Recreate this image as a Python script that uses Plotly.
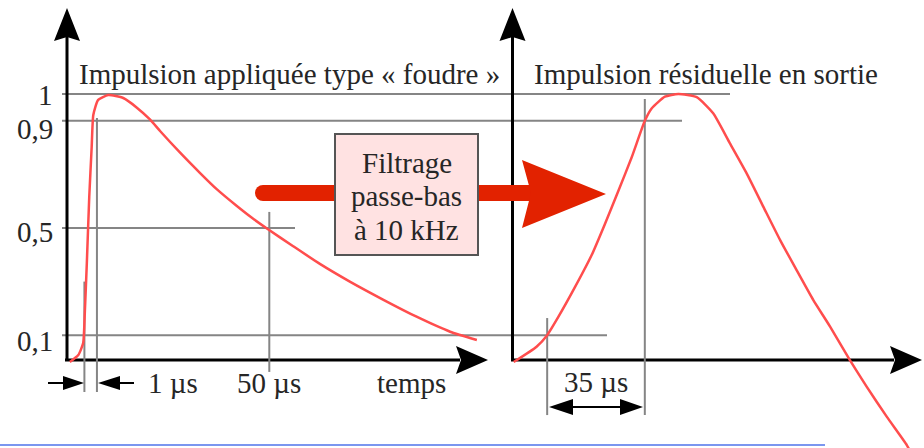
import plotly.graph_objects as go

W, H = 924, 448

# applied "lightning" impulse, left panel (time in µs, amplitude normalised to peak)
t_in = [0.7, 2.8, 4.0, 4.4, 4.9, 5.5, 6.1, 6.5, 7.7, 10.2, 13.9, 17.2, 20.5, 23.0, 27.9,
        32.9, 37.0, 41.9, 45.7, 49.5, 55.9, 62.5, 69.9, 78.1, 86.4, 94.7, 101.3]
v_in = [0.00, 0.026, 0.071, 0.183, 0.369, 0.616, 0.802, 0.922, 0.978, 0.996, 0.985, 0.950,
        0.905, 0.862, 0.782, 0.705, 0.645, 0.583, 0.538, 0.497, 0.432, 0.366, 0.300, 0.233,
        0.169, 0.113, 0.082]

# residual impulse after the 10 kHz low-pass filter, right panel
t_out = [0.5, 8.7, 12.5, 16.5, 22.5, 28.5, 33.2, 38.0, 42.8, 47.5, 50.0, 54.7, 59.5, 66.1,
         72.0, 78.0, 84.0, 90.0, 96.0, 101.9, 107.9, 113.9, 121.0, 127.0, 134.2, 141.4, 143.3]
v_out = [0.00, 0.057, 0.100, 0.168, 0.280, 0.400, 0.515, 0.638, 0.764, 0.900, 0.947, 0.990,
         1.000, 0.988, 0.928, 0.816, 0.704, 0.579, 0.455, 0.343, 0.231, 0.132, 0.007, -0.092,
         -0.204, -0.310, -0.347]

levels = [1, 0.9, 0.5, 0.1]
level_labels = ["1", "0,9", "0,5", "0,1"]
rise_in = [4.3, 7.4]       # 10 % / 90 % marks on the applied impulse (µs)
half_in = 50               # 50 µs mark
rise_out = [12.5, 47.5]    # 35 µs rise of the residual impulse

RED = "#ff4d4d"
ARROW_RED = "#e22200"
GREY = "#858585"
INK = "#262626"
FONT = "Liberation Serif, Times New Roman, serif"

# pixel mapping of the hand-drawn panels
Y0, YS = 362, 268          # pixel of amplitude 0, pixels per unit
X0_IN, XS_IN = 67, 4.046
X0_OUT, XS_OUT = 512.3, 2.79


def px(x):
    return x / W


def py(y):
    return 1 - y / H


def poly(pts):
    return "M " + " L ".join(f"{px(x)},{py(y)}" for x, y in pts) + " Z"


fig = go.Figure()
fig.add_trace(go.Scatter(x=t_in, y=v_in, mode="lines", xaxis="x", yaxis="y",
                         line=dict(color=RED, width=2.5, shape="spline", smoothing=0.5),
                         hoverinfo="skip"))
fig.add_trace(go.Scatter(x=t_out, y=v_out, mode="lines", xaxis="x2", yaxis="y",
                         line=dict(color=RED, width=2.5, shape="spline", smoothing=0.5),
                         hoverinfo="skip"))

shapes = []

# ── grey guide lines (under the curves) ──
level_end = [730, 682, 295, 607]
for lv, x1 in zip(levels, level_end):
    shapes.append(dict(type="line", xref="paper", yref="y", x0=px(62), x1=px(x1), y0=lv, y1=lv,
                       line=dict(color=GREY, width=2), layer="below"))
guides = [("x", rise_in[0], 0.30, -0.112), ("x", rise_in[1], 0.91, -0.112),
          ("x", half_in, 0.56, -0.037),
          ("x2", rise_out[0], 0.164, -0.198), ("x2", rise_out[1], 0.981, -0.198)]
for xr, xv, y0, y1 in guides:
    shapes.append(dict(type="line", xref=xr, yref="y", x0=xv, x1=xv, y0=y0, y1=y1,
                       line=dict(color=GREY, width=2), layer="below"))

# ── black axes with arrowheads ──
ax_line = dict(color="black", width=3)
for x in (67, 512.5):
    shapes.append(dict(type="line", xref="paper", yref="paper", x0=px(x), x1=px(x),
                       y0=py(361), y1=py(36), line=ax_line, layer="below"))
    shapes.append(dict(type="path", xref="paper", yref="paper", layer="below",
                       path=poly([(x, 8), (x - 13, 41), (x, 37), (x + 13, 41)]),
                       fillcolor="black", line=dict(width=0)))
for x0, tip in ((65, 488), (511, 922)):
    shapes.append(dict(type="line", xref="paper", yref="paper", x0=px(x0), x1=px(tip - 28),
                       y0=py(360), y1=py(360), line=ax_line, layer="below"))
    shapes.append(dict(type="path", xref="paper", yref="paper", layer="below",
                       path=poly([(tip, 360), (tip - 32, 346), (tip - 27, 360), (tip - 32, 374)]),
                       fillcolor="black", line=dict(width=0)))

# ── dimension arrows ──
dim = dict(color="black", width=2)
for (xa, xb, y) in ((48, 66, 383), (118, 134, 383), (570, 624, 407)):
    shapes.append(dict(type="line", xref="paper", yref="paper", x0=px(xa), x1=px(xb),
                       y0=py(y), y1=py(y), line=dim))
heads = [(84, 63, 383, 7), (98, 120, 383, 7), (549, 573, 407, 8), (643, 620, 407, 8)]
for tip, base, y, hw in heads:
    shapes.append(dict(type="path", xref="paper", yref="paper",
                       path=poly([(tip, y), (base, y - hw), (base, y + hw)]),
                       fillcolor="black", line=dict(width=0)))

# ── red "filter" arrow and box ──
shapes.append(dict(type="circle", xref="paper", yref="paper", x0=px(255), x1=px(271),
                   y0=py(185), y1=py(201), fillcolor=ARROW_RED, line=dict(width=0)))
shapes.append(dict(type="rect", xref="paper", yref="paper", x0=px(263), x1=px(532),
                   y0=py(185), y1=py(201), fillcolor=ARROW_RED, line=dict(width=0)))
shapes.append(dict(type="path", xref="paper", yref="paper",
                   path=poly([(522, 160), (606, 194), (522, 228), (531, 193)]),
                   fillcolor=ARROW_RED, line=dict(width=0)))
shapes.append(dict(type="rect", xref="paper", yref="paper", x0=px(335), x1=px(478),
                   y0=py(134), y1=py(255), fillcolor="#ffe2e2",
                   line=dict(color="#555555", width=2)))

# bottom blue rule
shapes.append(dict(type="line", xref="paper", yref="paper", x0=0, x1=px(825),
                   y0=py(445), y1=py(445), line=dict(color="#7b96ef", width=2)))

txt = dict(family=FONT, size=29, color=INK)
ann = []


def label(text, x, y, xanchor="left", xref="paper", yref="paper", yshift=0):
    ann.append(dict(text=text, x=x, y=y, xref=xref, yref=yref, xanchor=xanchor,
                    yanchor="middle", showarrow=False, font=txt, yshift=yshift))


label("Impulsion appliquée type « foudre »", px(77), py(74))
label("Impulsion résiduelle en sortie", px(532), py(74))
for lv, lab, dy in zip(levels, level_labels, (-1, -8, -4, -6)):
    label(lab, px(55), lv, xanchor="right", yref="y", yshift=dy)
label("1 µs", px(146), py(383))
label("50 µs", half_in, py(383), xanchor="center", xref="x")
label("temps", px(411), py(383), xanchor="center")
label("35 µs", sum(rise_out) / 2, py(382), xanchor="center", xref="x2")
for line_txt, yc in (("Filtrage", 163), ("passe-bas", 196), ("à 10 kHz", 230)):
    label(line_txt, px(406.5), py(yc), xanchor="center")

fig.update_layout(
    width=W, height=H, autosize=False,
    margin=dict(l=0, r=0, t=0, b=0),
    paper_bgcolor="white", plot_bgcolor="white",
    showlegend=False,
    xaxis=dict(domain=[0, 1], range=[-X0_IN / XS_IN, (W - X0_IN) / XS_IN], visible=False),
    xaxis2=dict(domain=[0, 1], overlaying="x", range=[-X0_OUT / XS_OUT, (W - X0_OUT) / XS_OUT],
                visible=False),
    yaxis=dict(domain=[0, 1], range=[(Y0 - H) / YS, Y0 / YS], visible=False),
    shapes=shapes,
    annotations=ann,
)

# page body has an 8px default margin; drop it so the drawing sits flush
fig.write_html("out.html", config=dict(displayModeBar=False),
               post_script="document.body.style.margin='0';document.body.style.overflow='hidden';")
